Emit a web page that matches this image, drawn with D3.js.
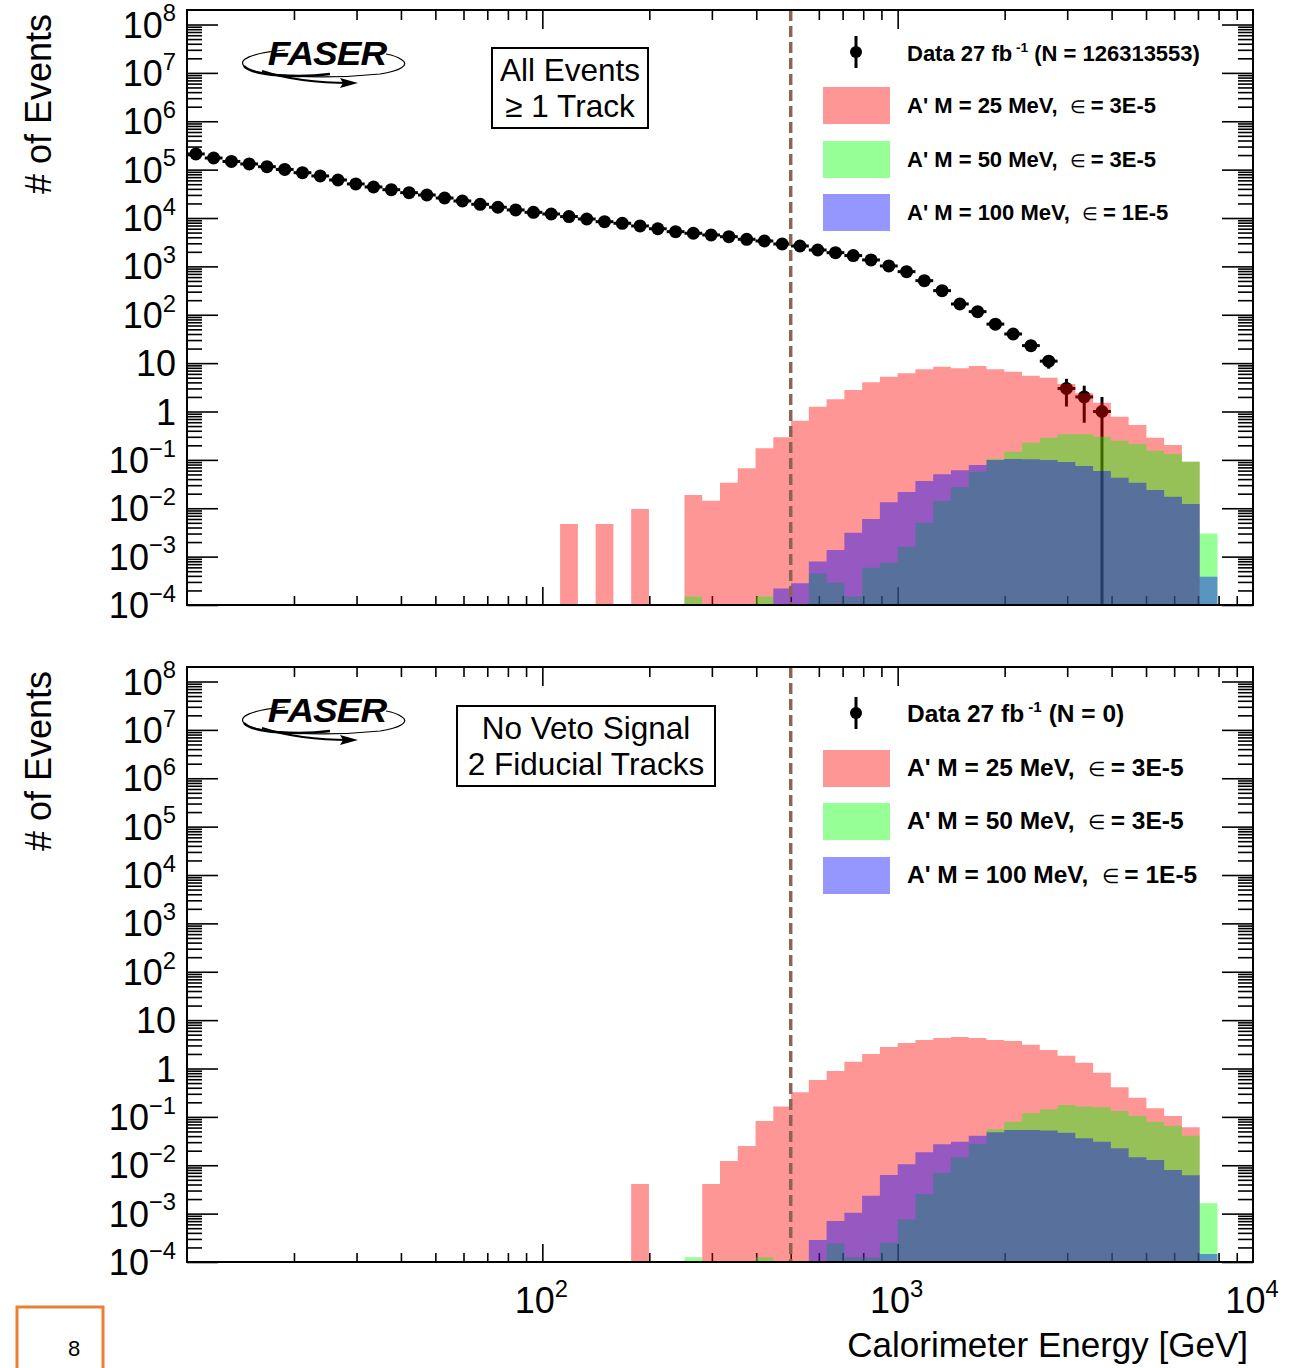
<!DOCTYPE html>
<html>
<head>
<meta charset="utf-8">
<script src="https://cdn.jsdelivr.net/npm/d3@7"></script>
<style>
body { margin: 0; background: #fff; }
svg { display: block; font-family: "Liberation Sans", Arial, Helvetica, sans-serif; }
.leg { font-weight: bold; white-space: pre; }
</style>
</head>
<body>
<svg id="c" width="1301" height="1368"></svg>
<script>
// 60 log bins between 10 GeV and 10 TeV
var nBins = 60, eLo = 10, eHi = 1e4;
var edges = d3.range(nBins + 1).map(function(i) { return eLo * Math.pow(eHi / eLo, i / nBins); });

// data counts, top panel (bins 0..51)
var dataTop = [211000, 174000, 147600, 131000, 115000, 101000, 86500, 74000, 61100, 50600,
	43800, 38500, 33400, 29900, 25900, 22500, 19200, 16700, 14700, 13100,
	12100, 10700, 9550, 8400, 7780, 6850, 6000, 5220, 4840, 4460,
	4110, 3630, 3350, 2900, 2640, 2180, 1920, 1670, 1360, 1020,
	778, 507, 315, 167, 116, 64, 40, 23, 11, 3, 2, 1];

// signal MC, top panel (first bin index, then values)
var redTopFirst = 21;
var redTop = [4.7e-3, 0, 4.7e-3, 0, 9.7e-3, 0, 0, 0.0188, 0.0143, 0.0337,
	0.067, 0.174, 0.293, 0.646, 1.26, 1.79, 2.79, 4.02, 5.25, 6.17,
	7.46, 8.45, 7.8, 8.73, 7.46, 6.65, 5.5, 5.0, 3.7, 2.38,
	1.52, 0.78, 0.526, 0.288, 0.203, 0.092];
var greenTopFirst = 28;
var greenTop = [1.5e-4, 0, 0, 0, 1.5e-4, 0, 0, 4.5e-4, 2.9e-4, 1.5e-4,
	5.9e-4, 7.5e-4, 1.6e-3, 5.0e-3, 0.0143, 0.0271, 0.057, 0.106, 0.148, 0.226,
	0.288, 0.337, 0.337, 0.302, 0.25, 0.213, 0.155, 0.132, 0.092, 3.0e-3];
var blueTopFirst = 33;
var blueTop = [2.2e-4, 2.8e-4, 7.9e-4, 1.37e-3, 3.13e-3, 6.0e-3, 0.0133, 0.0217, 0.0366, 0.0504,
	0.061, 0.0784, 0.0995, 0.104, 0.103, 0.0995, 0.0904, 0.0748, 0.0589, 0.0428,
	0.0337, 0.0238, 0.0173, 0.0122, 3.85e-4];

// signal MC, bottom panel
var redBotFirst = 25;
var redBot = [4.1e-3, 0, 0, 0, 4.1e-3, 0.0122, 0.025, 0.082, 0.163, 0.322,
	0.58, 0.89, 1.38, 2.0, 2.79, 3.37, 3.9, 4.28, 4.49, 4.28,
	3.9, 3.7, 3.1, 2.42, 1.84, 1.32, 0.82, 0.41, 0.25, 0.151,
	0.104, 0.061];
var greenBotFirst = 28;
var greenBot = [1.25e-4, 0, 0, 0, 1.25e-4, 0, 0, 0, 2.4e-4, 1.25e-4,
	1.25e-4, 2.5e-4, 7.6e-4, 2.55e-3, 7.0e-3, 0.0146, 0.0275, 0.0553, 0.0796, 0.119,
	0.144, 0.176, 0.163, 0.158, 0.132, 0.104, 0.0796, 0.0658, 0.0408, 1.64e-3];
var blueBotFirst = 35;
var blueBot = [2.85e-4, 7.05e-4, 1.04e-3, 2.35e-3, 6.3e-3, 0.0105, 0.0185, 0.0271, 0.0307, 0.0408,
	0.048, 0.0536, 0.0536, 0.052, 0.047, 0.036, 0.0307, 0.0224, 0.0146, 0.0129,
	8.0e-3, 6.2e-3, 1.46e-4];

var yExps = [-4, -3, -2, -1, 0, 1, 2, 3, 4, 5, 6, 7, 8];
var xLabelExps = [2, 3, 4];
var cutEnergy = 500;
var legendTop = ["Data 27 fb", "(N = 126313553)"];
var legendBot = ["Data 27 fb", "(N = 0)"];
var sigNames = ["A' M = 25 MeV,  ", "A' M = 50 MeV,  ", "A' M = 100 MeV,  "];
var sigEps = ["= 3E-5", "= 3E-5", "= 1E-5"];
var sigColors = ["rgb(255,0,0)", "rgb(0,255,0)", "rgb(0,0,255)"];
var sigAlpha = 0.41;

function full(first, vals) {
	var a = d3.range(nBins).map(function() { return 0; });
	vals.forEach(function(v, i) { a[first + i] = v; });
	return a;
}

var svg = d3.select('#c');
var L = 187, R = 1253;
var yMin = 1e-4, yMax = Math.pow(10, 8.3);
var x = d3.scaleLog().domain([eLo, eHi]).range([L, R]);

function minorTicks(lo, hi) {
	var t = [];
	for (var e = lo; e < hi; e++) for (var m = 2; m <= 9; m++) t.push(m * Math.pow(10, e));
	return t;
}

function powLabel(g, px, py, e, anchor, size) {
	var t = g.append('text').attr('x', px).attr('y', py).attr('text-anchor', anchor)
		.attr('font-size', size);
	if (e === 0) { t.text('1'); return; }
	if (e === 1) { t.text('10'); return; }
	t.append('tspan').text('10');
	t.append('tspan').attr('dy', -size * 0.45).attr('font-size', size * 0.66)
		.text(e < 0 ? '\u2212' + (-e) : e);
}

function panel(top, bottom, dataVals, hists, boxLines, boxRect, legText, legFont, legY) {
	var y = d3.scaleLog().domain([yMin, yMax]).range([bottom, top]);
	var g = svg.append('g');
	var yMaj = yExps.map(function(e) { return Math.pow(10, e); });
	var yMin_ = minorTicks(-4, 9).filter(function(v) { return v < yMax; });
	var xMaj = [100, 1000];
	var xMin_ = minorTicks(1, 4);

	// ticks
	function ax(a, tr) {
		var s = g.append('g').attr('transform', tr).call(a);
		s.select('.domain').remove();
		s.selectAll('line').attr('stroke', '#000').attr('stroke-width', 1.6);
	}
	ax(d3.axisRight(y).tickValues(yMaj).tickSize(31).tickFormat(''), 'translate(' + L + ',0)');
	ax(d3.axisRight(y).tickValues(yMin_).tickSize(15).tickFormat(''), 'translate(' + L + ',0)');
	ax(d3.axisLeft(y).tickValues(yMaj).tickSize(31).tickFormat(''), 'translate(' + R + ',0)');
	ax(d3.axisLeft(y).tickValues(yMin_).tickSize(15).tickFormat(''), 'translate(' + R + ',0)');
	ax(d3.axisTop(x).tickValues(xMaj).tickSize(18).tickFormat(''), 'translate(0,' + bottom + ')');
	ax(d3.axisTop(x).tickValues(xMin_).tickSize(9).tickFormat(''), 'translate(0,' + bottom + ')');
	ax(d3.axisBottom(x).tickValues(xMaj).tickSize(19).tickFormat(''), 'translate(0,' + top + ')');
	ax(d3.axisBottom(x).tickValues(xMin_).tickSize(10).tickFormat(''), 'translate(0,' + top + ')');

	// y labels
	yExps.forEach(function(e) {
		powLabel(g, 176, y(Math.pow(10, e)) + 13, e, 'end', 36);
	});
	g.append('text').attr('transform', 'translate(51,' + (top + 4) + ') rotate(-90)')
		.attr('text-anchor', 'end').attr('font-size', 36).text('# of Events');

	// data points
	dataVals.forEach(function(n, i) {
		if (n <= 0) return;
		var cx = x(Math.sqrt(edges[i] * edges[i + 1]));
		var err = Math.sqrt(n);
		g.append('line').attr('x1', x(edges[i])).attr('x2', x(edges[i + 1]))
			.attr('y1', y(n)).attr('y2', y(n)).attr('stroke', '#000').attr('stroke-width', 3);
		g.append('line').attr('x1', cx).attr('x2', cx)
			.attr('y1', y(n + err)).attr('y2', y(Math.max(n - err, yMin)))
			.attr('stroke', '#000').attr('stroke-width', 3);
		g.append('circle').attr('cx', cx).attr('cy', y(n)).attr('r', 6.5).attr('fill', '#000');
	});

	// stacked-transparent histograms
	var area = d3.area()
		.x(function(d) { return x(d.e); })
		.y0(y(yMin))
		.y1(function(d) { return y(Math.max(d.v, yMin)); })
		.curve(d3.curveStepAfter);
	hists.forEach(function(h, k) {
		var pts = h.map(function(v, i) { return {e: edges[i], v: v}; });
		pts.push({e: edges[nBins], v: h[nBins - 1]});
		g.append('path').attr('d', area(pts)).attr('fill', sigColors[k]).attr('fill-opacity', sigAlpha);
	});

	// cut line
	g.append('line').attr('x1', x(cutEnergy)).attr('x2', x(cutEnergy))
		.attr('y1', top).attr('y2', bottom)
		.attr('stroke', '#8a6652').attr('stroke-width', 3.5).attr('stroke-dasharray', '11,5');

	// frame
	g.append('rect').attr('x', L).attr('y', top).attr('width', R - L).attr('height', bottom - top)
		.attr('fill', 'none').attr('stroke', '#000').attr('stroke-width', 2);

	// FASER logo
	var lg = g.append('g').attr('transform', 'translate(0,' + top + ')');
	lg.append('path').attr('d', 'M 285 40 C 250 43, 238 50, 244 56 C 252 66, 320 70, 380 64 C 400 61, 410 55, 402 50 C 398 47, 392 45, 386 44')
		.attr('fill', 'none').attr('stroke', '#000').attr('stroke-width', 1.2);
	lg.append('path').attr('d', 'M 244 56 C 252 66, 300 68, 330 64')
		.attr('fill', 'none').attr('stroke', '#000').attr('stroke-width', 2.5);
	lg.append('path').attr('d', 'M 262 61 C 290 70, 320 73, 350 73')
		.attr('fill', 'none').attr('stroke', '#000').attr('stroke-width', 2.2);
	lg.append('path').attr('d', 'M 358 73 L 340 68 L 343 73 L 340 78 Z').attr('fill', '#000');
	lg.append('text').attr('x', 327).attr('y', 55).attr('text-anchor', 'middle')
		.attr('font-size', 37).attr('font-weight', 'bold').attr('font-style', 'italic')
		.attr('letter-spacing', -1).attr('transform', 'translate(327,55) scale(1,0.9) translate(-327,-55)')
		.text('FASER');

	// label box
	g.append('rect').attr('x', boxRect[0]).attr('y', top + boxRect[1]).attr('width', boxRect[2])
		.attr('height', boxRect[3]).attr('fill', '#fff').attr('stroke', '#000').attr('stroke-width', 2);
	boxLines.forEach(function(s, i) {
		g.append('text').attr('x', boxRect[0] + boxRect[2] / 2).attr('y', top + boxRect[1] + 33 + i * 36)
			.attr('text-anchor', 'middle').attr('font-size', 31.5).text(s);
	});

	// legend
	var lx = 907;
	var my = top + legY[0] - 9;
	g.append('line').attr('x1', 856).attr('x2', 856).attr('y1', my - 16).attr('y2', my + 16)
		.attr('stroke', '#000').attr('stroke-width', 3);
	g.append('circle').attr('cx', 856).attr('cy', my).attr('r', 6).attr('fill', '#000');
	var t0 = g.append('text').attr('class', 'leg').attr('x', lx).attr('y', top + legY[0]).attr('font-size', legFont);
	t0.append('tspan').text(legText[0]);
	t0.append('tspan').attr('dy', -legFont * 0.4).attr('font-size', legFont * 0.62).text(' -1');
	t0.append('tspan').attr('dy', legFont * 0.4).text(' ' + legText[1]);
	sigNames.forEach(function(s, k) {
		var by = top + legY[k + 1];
		g.append('rect').attr('x', 823).attr('y', by - 26).attr('width', 67).attr('height', 37)
			.attr('fill', sigColors[k]).attr('fill-opacity', sigAlpha);
		var t = g.append('text').attr('class', 'leg').attr('x', lx).attr('y', by).attr('font-size', legFont);
		t.append('tspan').text(s);
		t.append('tspan').attr('font-weight', 'normal').attr('font-size', legFont * 0.8).text('\u2208 ');
		t.append('tspan').text(sigEps[k]);
	});
	return y;
}

panel(10, 605, dataTop,
	[full(redTopFirst, redTop), full(greenTopFirst, greenTop), full(blueTopFirst, blueTop)],
	['All Events', '\u2265 1 Track'], [492, 38, 156, 80], legendTop, 22, [51, 103, 157, 210]);
panel(667, 1262, [],
	[full(redBotFirst, redBot), full(greenBotFirst, greenBot), full(blueBotFirst, blueBot)],
	['No Veto Signal', '2 Fiducial Tracks'], [457, 39, 258, 80], legendBot, 24.5, [55, 109, 162, 216]);

// x labels + title (bottom panel only)
xLabelExps.forEach(function(e) {
	powLabel(svg, x(Math.pow(10, e)) - 1, 1313, e, 'middle', 36);
});
svg.append('text').attr('x', 1248).attr('y', 1357).attr('text-anchor', 'end')
	.attr('font-size', 35).text('Calorimeter Energy [GeV]');

// page number box
svg.append('rect').attr('x', 17).attr('y', 1307).attr('width', 86).attr('height', 70)
	.attr('fill', 'none').attr('stroke', '#ed7d31').attr('stroke-width', 3);
svg.append('text').attr('x', 74).attr('y', 1356).attr('text-anchor', 'middle')
	.attr('font-size', 22).text('8');
</script>
</body>
</html>
